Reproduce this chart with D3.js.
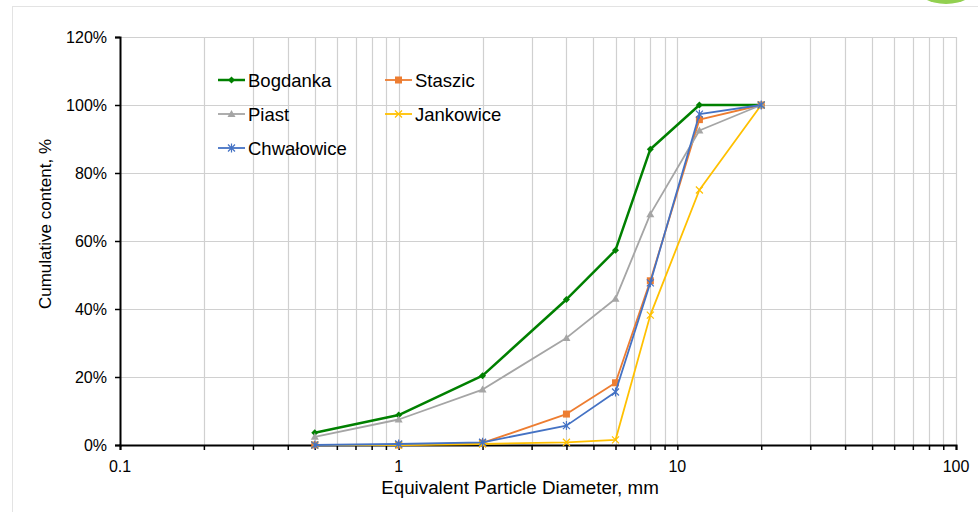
<!DOCTYPE html>
<html>
<head>
<meta charset="utf-8">
<script src="https://cdn.jsdelivr.net/npm/d3@7"></script>
<style>
  body { margin: 0; background: #fff; }
  svg { display: block; font-family: "Liberation Sans", Arial, sans-serif; }
</style>
</head>
<body>
<svg id="chart" width="978" height="512"></svg>
<script>
// sieve sizes, mm
const diameters = [0.5, 1, 2, 4, 6, 8, 12, 20];

// cumulative content, %
const bogdanka = [3.6, 8.8, 20.4, 42.8, 57.3, 87.0, 100, 100];
const staszic = [0, 0, 0.6, 9.1, 18.3, 48.3, 95.7, 100];
const piast = [2.4, 7.5, 16.3, 31.5, 43.0, 67.9, 92.5, 100];
const jankowice = [0, 0, 0.3, 0.8, 1.5, 38.2, 75.0, 100];
const chwalowice = [0, 0.3, 0.8, 5.7, 15.6, 47.7, 97.3, 100];

const seriesNames = ["Bogdanka", "Staszic", "Piast", "Jankowice", "Chwałowice"];
const seriesValues = [bogdanka, staszic, piast, jankowice, chwalowice];

const yTicks = [0, 20, 40, 60, 80, 100, 120];
const xLabels = [0.1, 1, 10, 100];

const colors = ["#008000", "#ED7D31", "#A5A5A5", "#FFC000", "#4472C4"];
const markers = ["diamond", "square", "triangle", "cross", "asterisk"];

const svg = d3.select("#chart");

// frame + decorative blob at top right
svg.append("rect")
  .attr("x", 12.5).attr("y", 6.5)
  .attr("width", 1000).attr("height", 600)
  .attr("fill", "none").attr("stroke", "#e3e3e3");
svg.append("ellipse")
  .attr("cx", 946).attr("cy", -15)
  .attr("rx", 31).attr("ry", 19)
  .attr("fill", "#92d050");

const x = d3.scaleLog().domain([0.1, 100]).range([120, 956]);
const y = d3.scaleLinear().domain([0, 120]).range([445, 37]);

// every minor position of the log axis
const gridX = [];
for (let dec = 0.1; dec < 100; dec *= 10) {
  for (let k = 1; k <= 9; k++) gridX.push(+(dec * k).toPrecision(3));
}
gridX.push(100);

const grid = svg.append("g");
grid.selectAll(".vg").data(gridX.filter(d => d > 0.1)).enter()
  .append("line")
  .attr("x1", d => Math.round(x(d)) + 0.5).attr("x2", d => Math.round(x(d)) + 0.5)
  .attr("y1", y(120)).attr("y2", y(0))
  .attr("stroke", "#d0d0d0").attr("stroke-width", 1.2);
grid.selectAll(".hg").data(yTicks.filter(d => d > 0)).enter()
  .append("line")
  .attr("x1", x(0.1)).attr("x2", x(100))
  .attr("y1", d => Math.round(y(d)) + 0.5).attr("y2", d => Math.round(y(d)) + 0.5)
  .attr("stroke", "#d0d0d0").attr("stroke-width", 1.2);

// axes
const xAxis = svg.append("g").attr("transform", "translate(0," + y(0) + ")")
  .call(d3.axisBottom(x).tickValues(gridX).tickSize(5).tickFormat(""));
xAxis.select(".domain").attr("stroke", "#000").attr("stroke-width", 2);
xAxis.selectAll(".tick line").attr("stroke", "#000").attr("stroke-width", 1.5);

const yAxis = svg.append("g").attr("transform", "translate(" + x(0.1) + ",0)")
  .call(d3.axisLeft(y).tickValues(yTicks).tickSize(5).tickFormat(""));
yAxis.select(".domain").attr("stroke", "#000").attr("stroke-width", 2);
yAxis.selectAll(".tick line").attr("stroke", "#000").attr("stroke-width", 1.5);

svg.append("g").selectAll("text").data(yTicks).enter()
  .append("text")
  .attr("x", 107).attr("y", d => y(d) + 6)
  .attr("text-anchor", "end")
  .attr("font-size", 16)
  .text(d => d + "%");

svg.append("g").selectAll("text").data(xLabels).enter()
  .append("text")
  .attr("x", d => x(d)).attr("y", 472)
  .attr("text-anchor", "middle")
  .attr("font-size", 16)
  .text(d => d);

svg.append("text")
  .attr("x", 520).attr("y", 494)
  .attr("text-anchor", "middle")
  .attr("font-size", 18.8)
  .text("Equivalent Particle Diameter, mm");

svg.append("text")
  .attr("transform", "translate(51,224) rotate(-90)")
  .attr("text-anchor", "middle")
  .attr("font-size", 17)
  .text("Cumulative content, %");

function drawMarker(g, type, color) {
  if (type === "diamond") {
    g.append("path").attr("d", "M0,-3.5L3.5,0L0,3.5L-3.5,0Z").attr("fill", color);
  } else if (type === "square") {
    g.append("rect").attr("x", -3.5).attr("y", -3.5).attr("width", 7).attr("height", 7).attr("fill", color);
  } else if (type === "triangle") {
    g.append("path").attr("d", "M0,-4L4,3L-4,3Z").attr("fill", color);
  } else if (type === "cross") {
    g.append("path").attr("d", "M-3.5,-3.5L3.5,3.5M-3.5,3.5L3.5,-3.5")
      .attr("stroke", color).attr("stroke-width", 1.2);
  } else {
    g.append("path").attr("d", "M-3.5,-3.5L3.5,3.5M-3.5,3.5L3.5,-3.5M0,-4.5L0,4.5")
      .attr("stroke", color).attr("stroke-width", 1.2);
  }
}

const line = d3.line().x(d => x(d[0])).y(d => y(d[1]));

seriesValues.forEach((vals, i) => {
  const pts = diameters.map((d, j) => [d, vals[j]]);
  svg.append("path")
    .datum(pts)
    .attr("d", line)
    .attr("fill", "none")
    .attr("stroke", colors[i])
    .attr("stroke-width", i === 0 ? 2.5 : 1.8)
    .attr("stroke-linejoin", "round");
  pts.forEach(p => {
    const g = svg.append("g").attr("transform", "translate(" + x(p[0]) + "," + y(p[1]) + ")");
    drawMarker(g, markers[i], colors[i]);
  });
});

// legend, two columns
const legendPos = [[218, 80], [385, 80], [218, 114], [385, 114], [218, 148]];
seriesNames.forEach((name, i) => {
  const lx = legendPos[i][0], ly = legendPos[i][1];
  const g = svg.append("g");
  g.append("line")
    .attr("x1", lx).attr("x2", lx + 27)
    .attr("y1", ly).attr("y2", ly)
    .attr("stroke", colors[i]).attr("stroke-width", i === 0 ? 2.5 : 1.8);
  drawMarker(g.append("g").attr("transform", "translate(" + (lx + 13.5) + "," + ly + ")"), markers[i], colors[i]);
  g.append("text")
    .attr("x", lx + 30).attr("y", ly + 6.5)
    .attr("font-size", 18.5)
    .text(name);
});
</script>
</body>
</html>
